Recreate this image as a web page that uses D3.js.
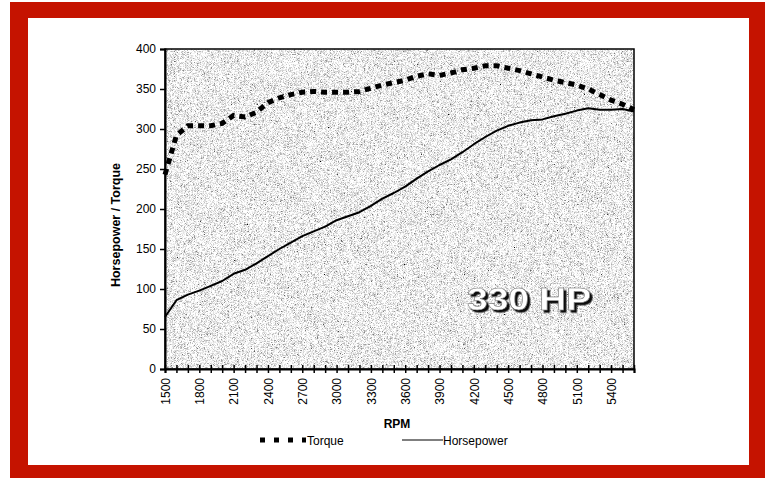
<!DOCTYPE html>
<html>
<head>
<meta charset="utf-8">
<script src="https://cdn.jsdelivr.net/npm/d3@7"></script>
<style>
  html, body { margin: 0; padding: 0; background: #ffffff; }
  svg { display: block; }
  text { font-family: "Liberation Sans", Arial, sans-serif; }
</style>
</head>
<body>
<svg id="chart" width="768" height="478"></svg>
<script>
// ---- data ----
const rpm = [1500,1600,1700,1800,1900,2000,2100,2200,2300,2400,2500,2600,2700,2800,2900,3000,3100,3200,3300,3400,3500,3600,3700,3800,3900,4000,4100,4200,4300,4400,4500,4600,4700,4800,4900,5000,5100,5200,5300,5400,5500,5600];
const torque = [243,292,304,304,304,307,317,315,321,333,339,343,346,347,346,346,346,347,351,355,358,361,366,369,367,370,374,376,379,379,376,373,369,365,361,358,355,350,343,336,331,324];
const horsepower = [65,86,93,98,104,110,119,124,132,141,150,158,166,172,178,186,191,196,204,213,220,228,238,247,255,262,271,281,290,298,304,308,311,312,316,319,323,326,324,324,325,322];
const yTicks = [0,50,100,150,200,250,300,350,400];
const xLabelStep = 300;
const seriesNames = ["Torque", "Horsepower"];
const annotation = "330 HP";

// ---- layout ----
const svg = d3.select("#chart");
const plot = {left: 165, top: 49, right: 634, bottom: 369};

// red frame
svg.append("rect").attr("x", 10).attr("y", 2).attr("width", 755).attr("height", 476).attr("fill", "#c51300");
svg.append("rect").attr("x", 28).attr("y", 18).attr("width", 721).attr("height", 447).attr("fill", "#ffffff");

// noise filter for plot background
const defs = svg.append("defs");
const f = defs.append("filter").attr("id", "noise").attr("x", 0).attr("y", 0).attr("width", "100%").attr("height", "100%");
f.append("feTurbulence").attr("type", "fractalNoise").attr("baseFrequency", 1.7).attr("numOctaves", 1).attr("seed", 7).attr("result", "t");
f.append("feColorMatrix").attr("in", "t").attr("type", "saturate").attr("values", 0).attr("result", "g");
const ct = f.append("feComponentTransfer").attr("in", "g");
["feFuncR","feFuncG","feFuncB"].forEach(n => ct.append(n).attr("type", "linear").attr("slope", 3.2).attr("intercept", -0.74));
ct.append("feFuncA").attr("type", "table").attr("tableValues", "1 1");

// drop shadow for annotation
const ds = defs.append("filter").attr("id", "shadow").attr("x", "-10%").attr("y", "-30%").attr("width", "130%").attr("height", "170%");
ds.append("feDropShadow").attr("dx", 2.5).attr("dy", 2.5).attr("stdDeviation", 0.6).attr("flood-color", "#111").attr("flood-opacity", 1);

const x = d3.scaleLinear().domain([rpm[0], rpm[rpm.length - 1]]).range([plot.left, plot.right]);
const y = d3.scaleLinear().domain([0, 400]).range([plot.bottom, plot.top]);

svg.append("rect")
  .attr("x", plot.left).attr("y", plot.top)
  .attr("width", plot.right - plot.left).attr("height", plot.bottom - plot.top)
  .attr("fill", "#bbbbbb").attr("filter", "url(#noise)");

// frame
svg.append("rect")
  .attr("x", plot.left).attr("y", plot.top)
  .attr("width", plot.right - plot.left).attr("height", plot.bottom - plot.top)
  .attr("fill", "none").attr("stroke", "#000").attr("stroke-width", 1.5);

// 330 HP annotation
svg.append("text").attr("x", 467).attr("y", 310).text(annotation)
  .attr("font-size", 32).attr("font-weight", "bold").attr("fill", "#ffffff")
  .attr("stroke", "#666").attr("stroke-width", 0.5)
  .attr("textLength", 124).attr("lengthAdjust", "spacingAndGlyphs")
  .attr("filter", "url(#shadow)");

// lines
const lineGen = d3.line().x((d, i) => x(rpm[i])).y(d => y(d));
svg.append("path").datum(horsepower).attr("d", lineGen)
  .attr("fill", "none").attr("stroke", "#000").attr("stroke-width", 2).attr("stroke-linejoin", "round");
svg.append("path").datum(torque).attr("d", lineGen)
  .attr("fill", "none").attr("stroke", "#000").attr("stroke-width", 5).attr("stroke-dasharray", "6,5");

// y axis
const yAxis = svg.append("g").attr("transform", `translate(${plot.left},0)`)
  .call(d3.axisLeft(y).tickValues(yTicks).tickSize(5).tickPadding(4));
yAxis.select(".domain").attr("stroke-width", 2);
yAxis.selectAll(".tick line").attr("stroke-width", 1.5);
yAxis.selectAll("text").attr("font-size", 12).attr("fill", "#000").attr("font-family", "'Liberation Sans', Arial, sans-serif");

// x axis
const xAxis = svg.append("g").attr("transform", `translate(0,${plot.bottom})`)
  .call(d3.axisBottom(x).tickValues(rpm).tickSize(4)
    .tickFormat(d => ((d - rpm[0]) % xLabelStep === 0 && d <= 5400) ? String(d) : ""));
xAxis.select(".domain").attr("stroke-width", 2);
xAxis.selectAll(".tick line").attr("y1", -4).attr("y2", 4).attr("stroke-width", 1.5);
xAxis.selectAll("text")
  .attr("font-size", 12).attr("fill", "#000").attr("font-family", "'Liberation Sans', Arial, sans-serif")
  .attr("transform", "rotate(-90)").attr("x", -9).attr("y", 0).attr("dy", "0.35em")
  .style("text-anchor", "end");

// axis titles
svg.append("text").attr("transform", "translate(120,225) rotate(-90)")
  .attr("text-anchor", "middle").attr("font-size", 12.5).attr("font-weight", "bold").text("Horsepower / Torque");
svg.append("text").attr("x", 397).attr("y", 428)
  .attr("text-anchor", "middle").attr("font-size", 12).attr("font-weight", "bold").text("RPM");

// legend
svg.append("line").attr("x1", 260).attr("x2", 306).attr("y1", 440).attr("y2", 440)
  .attr("stroke", "#000").attr("stroke-width", 5).attr("stroke-dasharray", "5,9");
svg.append("text").attr("x", 307).attr("y", 445).attr("font-size", 12).text(seriesNames[0]);
svg.append("line").attr("x1", 402).attr("x2", 443).attr("y1", 440).attr("y2", 440)
  .attr("stroke", "#000").attr("stroke-width", 1.2);
svg.append("text").attr("x", 443).attr("y", 445).attr("font-size", 12).text(seriesNames[1]);
</script>
</body>
</html>
